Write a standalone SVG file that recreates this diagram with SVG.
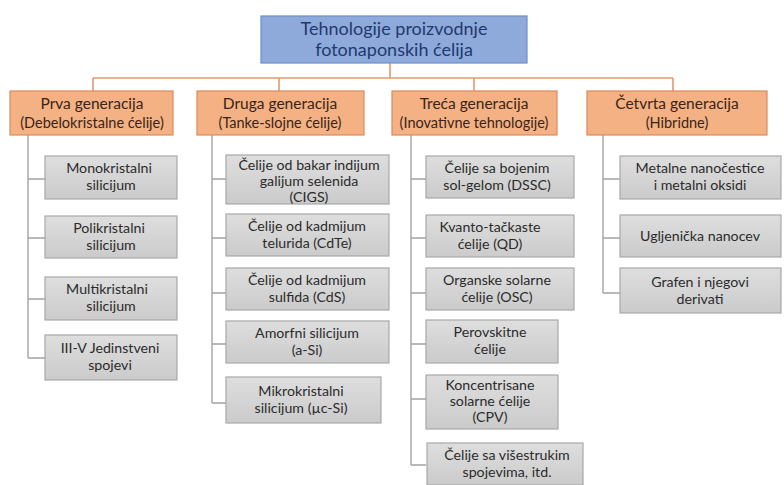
<svg xmlns="http://www.w3.org/2000/svg" width="784" height="485" viewBox="0 0 784 485">
<style>
text{font-family:Lato,"Open Sans","DejaVu Sans",sans-serif;text-anchor:middle}
.root{fill:#8eaadb;stroke:#6e8cc8;stroke-width:1.2}
.rt{font-size:18px;fill:#1f3a6e}
.gen{fill:#f4b183;stroke:#d98a5c;stroke-width:1.2}
.gt{font-size:15.5px;fill:#3a2418}
.gs{font-size:14.5px;fill:#3a2418}
.leaf{fill:url(#g);stroke:#a8a8a8;stroke-width:1.2}
.lt{font-size:14.2px;fill:#2b2b2b}
.c1{stroke:#e39a6c;stroke-width:1.6;fill:none}
.c2{stroke:#a3a3a3;stroke-width:1.4;fill:none}
</style>
<defs>
<linearGradient id="g" x1="0" y1="0" x2="0" y2="1">
<stop offset="0" stop-color="#dedede"/>
<stop offset="1" stop-color="#cbcbcb"/>
</linearGradient>
</defs>
<rect width="784" height="485" fill="#ffffff"/>
<g id="connectors">
<path class="c1" d="M390 63V78M93 78H673M93 78V91M279 78V91M474 78V91M673 78V91"/>
<path class="c2" d="M28 135V358M28 179H45M28 238H45M28 299H45M28 358H45"/>
<path class="c2" d="M212 135V403M212 179H226M212 238H226M212 293H226M212 344H226M212 403H226"/>
<path class="c2" d="M411 135V465M411 179H426M411 238H426M411 293H426M411 344H426M411 399H426M411 465H426"/>
<path class="c2" d="M603 135V293M603 179H620M603 238H620M603 293H620"/>
</g>
<g id="root"><rect class="root" x="261" y="16" width="266" height="47"/><text class="rt" x="394" y="35">Tehnologije proizvodnje</text><text class="rt" x="394" y="56">fotonaponskih ćelija</text></g>
<g id="gen1"><rect class="gen" x="10" y="91" width="163" height="44"/><text class="gt" x="92" y="109">Prva generacija</text><text class="gs" x="92" y="128">(Debelokristalne ćelije)</text></g>
<g id="gen2"><rect class="gen" x="197" y="91" width="167" height="44"/><text class="gt" x="280" y="109">Druga generacija</text><text class="gs" x="280" y="128">(Tanke-slojne ćelije)</text></g>
<g id="gen3"><rect class="gen" x="392" y="91" width="165" height="44"/><text class="gt" x="474" y="109">Treća generacija</text><text class="gs" x="474" y="128">(Inovativne tehnologije)</text></g>
<g id="gen4"><rect class="gen" x="587" y="91" width="180" height="44"/><text class="gt" x="677" y="109">Četvrta generacija</text><text class="gs" x="677" y="128">(Hibridne)</text></g>
<g id="c1a"><rect class="leaf" x="45" y="156" width="132" height="43"/><text class="lt" x="109" y="173">Monokristalni</text><text class="lt" x="111" y="190">silicijum</text></g>
<g id="c1b"><rect class="leaf" x="45" y="216" width="132" height="42"/><text class="lt" x="109" y="233">Polikristalni</text><text class="lt" x="111" y="250">silicijum</text></g>
<g id="c1c"><rect class="leaf" x="45" y="277" width="132" height="43"/><text class="lt" x="107" y="294">Multikristalni</text><text class="lt" x="111" y="311">silicijum</text></g>
<g id="c1d"><rect class="leaf" x="45" y="335" width="132" height="45"/><text class="lt" x="110" y="353">III-V Jedinstveni</text><text class="lt" x="110" y="370">spojevi</text></g>
<g id="c2a"><rect class="leaf" x="226" y="155" width="163" height="49"/><text class="lt" x="309" y="170">Čelije od bakar indijum</text><text class="lt" x="309" y="186">galijum selenida</text><text class="lt" x="309" y="202">(CIGS)</text></g>
<g id="c2b"><rect class="leaf" x="226" y="214" width="163" height="42"/><text class="lt" x="307" y="231">Čelije od kadmijum</text><text class="lt" x="307" y="248">telurida (CdTe)</text></g>
<g id="c2c"><rect class="leaf" x="226" y="268" width="163" height="42"/><text class="lt" x="307" y="285">Čelije od kadmijum</text><text class="lt" x="307" y="302">sulfida (CdS)</text></g>
<g id="c2d"><rect class="leaf" x="226" y="321" width="163" height="42"/><text class="lt" x="307" y="338">Amorfni silicijum</text><text class="lt" x="307" y="355">(a-Si)</text></g>
<g id="c2e"><rect class="leaf" x="226" y="377" width="155" height="46"/><text class="lt" x="301" y="396">Mikrokristalni</text><text class="lt" x="301" y="413">silicijum (µc-Si)</text></g>
<g id="c3a"><rect class="leaf" x="426" y="156" width="148" height="42"/><text class="lt" x="497" y="173">Čelije sa bojenim</text><text class="lt" x="497" y="190">sol-gelom (DSSC)</text></g>
<g id="c3b"><rect class="leaf" x="426" y="215" width="148" height="42"/><text class="lt" x="490" y="232">Kvanto-tačkaste</text><text class="lt" x="490" y="249">ćelije (QD)</text></g>
<g id="c3c"><rect class="leaf" x="426" y="268" width="148" height="42"/><text class="lt" x="497" y="285">Organske solarne</text><text class="lt" x="497" y="302">ćelije (OSC)</text></g>
<g id="c3d"><rect class="leaf" x="426" y="320" width="132" height="43"/><text class="lt" x="490" y="337">Perovskitne</text><text class="lt" x="490" y="354">ćelije</text></g>
<g id="c3e"><rect class="leaf" x="426" y="375" width="132" height="54"/><text class="lt" x="490" y="390">Koncentrisane</text><text class="lt" x="490" y="406">solarne ćelije</text><text class="lt" x="490" y="422">(CPV)</text></g>
<g id="c3f"><rect class="leaf" x="427" y="443" width="156" height="42"/><text class="lt" x="507" y="460">Čelije sa višestrukim</text><text class="lt" x="507" y="477">spojevima, itd.</text></g>
<g id="c4a"><rect class="leaf" x="620" y="156" width="161" height="43"/><text class="lt" x="700" y="173">Metalne nanočestice</text><text class="lt" x="700" y="190">i metalni oksidi</text></g>
<g id="c4b"><rect class="leaf" x="620" y="215" width="161" height="42"/><text class="lt" x="700" y="241">Ugljenička nanocev</text></g>
<g id="c4c"><rect class="leaf" x="620" y="268" width="161" height="45"/><text class="lt" x="700" y="287">Grafen i njegovi</text><text class="lt" x="700" y="304">derivati</text></g>
</svg>
